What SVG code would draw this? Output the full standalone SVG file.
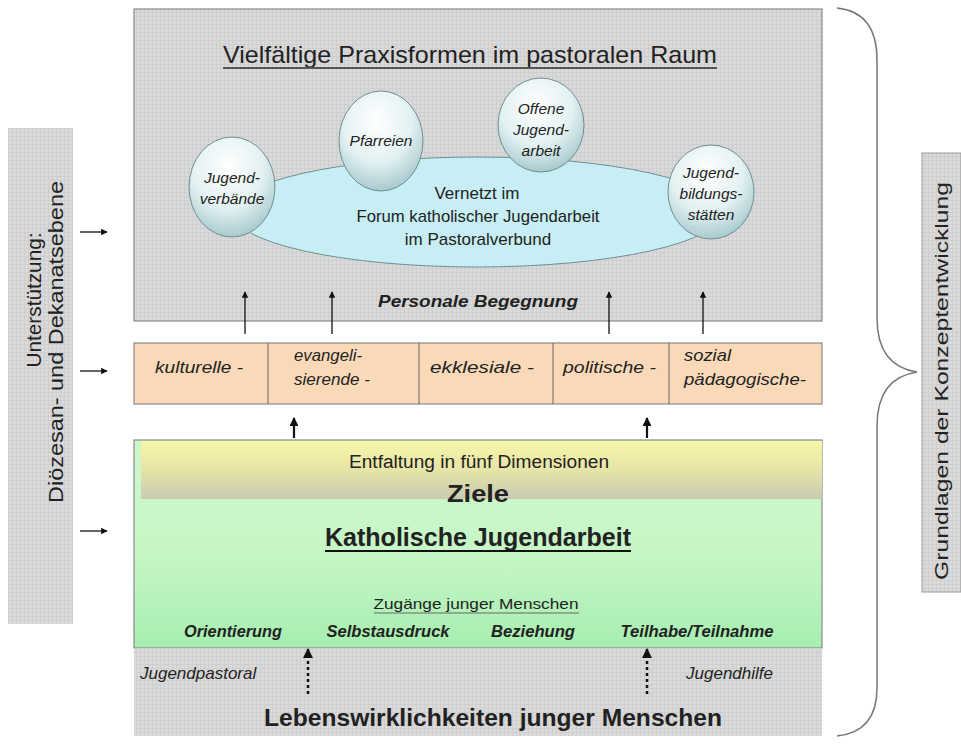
<svg xmlns="http://www.w3.org/2000/svg" width="961" height="744" viewBox="0 0 961 744">
<defs>
  <pattern id="grid" width="4" height="4" patternUnits="userSpaceOnUse">
    <rect width="4" height="4" fill="#dadada"/>
    <path d="M0 0.5H4M0.5 0V4" stroke="#cfcfcf" stroke-width="1"/>
  </pattern>
  <radialGradient id="ball" cx="0.45" cy="0.3" r="0.75">
    <stop offset="0" stop-color="#ffffff"/>
    <stop offset="0.55" stop-color="#e3f1f2"/>
    <stop offset="1" stop-color="#9fc3c8"/>
  </radialGradient>
  <linearGradient id="yel" x1="0" y1="0" x2="0" y2="1">
    <stop offset="0" stop-color="#f8f6a8"/>
    <stop offset="0.5" stop-color="#e6e4a8"/>
    <stop offset="1" stop-color="#c8cbb0"/>
  </linearGradient>
  <linearGradient id="grn" x1="0" y1="0" x2="0" y2="1">
    <stop offset="0" stop-color="#cdf8cd"/>
    <stop offset="0.55" stop-color="#c6f6c6"/>
    <stop offset="1" stop-color="#a6eeb0"/>
  </linearGradient>
  <marker id="ah" viewBox="0 0 10 10" refX="9" refY="5" markerWidth="5" markerHeight="5" orient="auto">
    <path d="M0 0L10 5L0 10z" fill="#111"/>
  </marker>
  <marker id="ahb" viewBox="0 0 10 10" refX="9" refY="5" markerWidth="4" markerHeight="4" orient="auto">
    <path d="M0 0L10 5L0 10z" fill="#111"/>
  </marker>
</defs>
<style>
  text { font-family: "Liberation Sans", Arial, sans-serif; fill: #222; }
  .c { text-anchor: middle; }
  .e { text-anchor: end; }
  .it { font-style: italic; }
  .b { font-weight: bold; }
  .box { stroke: #8a8a8a; stroke-width: 1.2; }
  .ball { fill: url(#ball); stroke: #6f8f92; stroke-width: 1; }
  .bt { font-size: 15.5px; font-style: italic; text-anchor: middle; }
  .ot { font-size: 16.5px; font-style: italic; }
  .zt { font-size: 16px; font-style: italic; font-weight: bold; text-anchor: middle; }
  .arr { stroke: #111; stroke-width: 1.3; fill: none; marker-end: url(#ah); }
  .arrb { stroke: #111; stroke-width: 2.2; fill: none; marker-end: url(#ahb); }
  .dash { stroke: #111; stroke-width: 2.5; stroke-dasharray: 3 3; fill: none; marker-end: url(#ahb); }
  .div { stroke: #666; stroke-width: 1; }
</style>
<rect width="961" height="744" fill="#ffffff"/>

<g id="praxis">
  <rect x="134" y="9" width="688" height="312" fill="url(#grid)" class="box"/>
  <text x="470" y="63" class="c" font-size="24" textLength="494" lengthAdjust="spacingAndGlyphs">Vielfältige Praxisformen im pastoralen Raum</text>
  <line x1="223" y1="68" x2="717" y2="68" stroke="#555" stroke-width="2"/>
  <ellipse cx="477" cy="212" rx="245" ry="55" fill="#c6eef4" stroke="#6f8f92" stroke-width="1"/>
  <text x="477" y="199" class="c" font-size="17">Vernetzt im</text>
  <text x="478" y="222" class="c" font-size="17" textLength="243" lengthAdjust="spacingAndGlyphs">Forum katholischer Jugendarbeit</text>
  <text x="478" y="245" class="c" font-size="17">im Pastoralverbund</text>
</g>
<g id="jugendverbaende">
  <ellipse cx="232" cy="187" rx="43" ry="50" class="ball"/>
  <text x="232" y="183" class="bt">Jugend-</text>
  <text x="232" y="204" class="bt">verbände</text>
</g>
<g id="pfarreien">
  <ellipse cx="381" cy="141" rx="42" ry="50" class="ball"/>
  <text x="381" y="146" class="bt">Pfarreien</text>
</g>
<g id="offene">
  <ellipse cx="541" cy="125" rx="43" ry="47" class="ball"/>
  <text x="541" y="114" class="bt">Offene</text>
  <text x="541" y="135" class="bt">Jugend-</text>
  <text x="541" y="156" class="bt">arbeit</text>
</g>
<g id="bildung">
  <ellipse cx="711" cy="192" rx="43" ry="47" class="ball"/>
  <text x="711" y="178" class="bt">Jugend-</text>
  <text x="711" y="199" class="bt">bildungs-</text>
  <text x="711" y="220" class="bt">stätten</text>
</g>
<g id="personale">
  <text x="478" y="307" class="c it b" font-size="17" textLength="200" lengthAdjust="spacingAndGlyphs">Personale Begegnung</text>
</g>

<g id="dimensionen">
  <rect x="134" y="343" width="688" height="61" fill="#fad9b8" class="box"/>
  <line x1="268" y1="343" x2="268" y2="404" class="div"/>
  <line x1="419" y1="343" x2="419" y2="404" class="div"/>
  <line x1="553" y1="343" x2="553" y2="404" class="div"/>
  <line x1="669" y1="343" x2="669" y2="404" class="div"/>
  <text x="155" y="373" class="ot" textLength="88" lengthAdjust="spacingAndGlyphs">kulturelle -</text>
  <text x="294" y="361" class="ot" textLength="68" lengthAdjust="spacingAndGlyphs">evangeli-</text>
  <text x="294" y="385" class="ot" textLength="76" lengthAdjust="spacingAndGlyphs">sierende -</text>
  <text x="430" y="373" class="ot" textLength="104" lengthAdjust="spacingAndGlyphs">ekklesiale -</text>
  <text x="563" y="373" class="ot" textLength="93" lengthAdjust="spacingAndGlyphs">politische -</text>
  <text x="684" y="361" class="ot" textLength="47" lengthAdjust="spacingAndGlyphs">sozial</text>
  <text x="684" y="385" class="ot" textLength="122" lengthAdjust="spacingAndGlyphs">pädagogische-</text>
</g>

<g id="kja">
  <rect x="134" y="440" width="688" height="208" fill="url(#grn)" class="box" stroke="#7a9a7a"/>
  <rect x="141" y="441" width="681" height="58" fill="url(#yel)"/>
  <text x="479" y="468" class="c" font-size="18" textLength="260" lengthAdjust="spacingAndGlyphs">Entfaltung in fünf Dimensionen</text>
  <text x="478" y="502" class="c b" font-size="24" textLength="62" lengthAdjust="spacingAndGlyphs">Ziele</text>
  <text x="478" y="546" class="c b" font-size="25" textLength="306" lengthAdjust="spacingAndGlyphs">Katholische Jugendarbeit</text>
  <line x1="325" y1="551" x2="631" y2="551" stroke="#111" stroke-width="2.2"/>
  <text x="476" y="609" class="c" font-size="15" fill="#555" textLength="205" lengthAdjust="spacingAndGlyphs">Zugänge junger Menschen</text>
  <line x1="374" y1="613" x2="579" y2="613" stroke="#666" stroke-width="1"/>
  <text x="233" y="637" class="zt" textLength="98" lengthAdjust="spacingAndGlyphs">Orientierung</text>
  <text x="388" y="637" class="zt" textLength="123" lengthAdjust="spacingAndGlyphs">Selbstausdruck</text>
  <text x="533" y="637" class="zt" textLength="84" lengthAdjust="spacingAndGlyphs">Beziehung</text>
  <text x="697" y="637" class="zt" textLength="153" lengthAdjust="spacingAndGlyphs">Teilhabe/Teilnahme</text>
</g>

<g id="lebens">
  <rect x="134" y="648" width="688" height="88" fill="url(#grid)"/>
  <text x="140" y="679" class="it" font-size="17">Jugendpastoral</text>
  <text x="773" y="679" class="e it" font-size="17">Jugendhilfe</text>
  <text x="493" y="726" class="c b" font-size="24.5" textLength="458" lengthAdjust="spacingAndGlyphs">Lebenswirklichkeiten junger Menschen</text>
</g>

<g id="unterstuetzung">
  <rect x="8" y="128" width="65" height="496" fill="url(#grid)"/>
  <text transform="translate(41 300) rotate(-90)" class="c" font-size="20" textLength="135" lengthAdjust="spacingAndGlyphs">Unterstützung:</text>
  <text transform="translate(63 342) rotate(-90)" class="c" font-size="20" textLength="322" lengthAdjust="spacingAndGlyphs">Diözesan- und Dekanatsebene</text>
</g>

<g id="grundlagen">
  <rect x="922" y="153" width="39" height="439" fill="url(#grid)" stroke="#999" stroke-width="1"/>
  <text transform="translate(948 381) rotate(-90)" class="c" font-size="19" textLength="398" lengthAdjust="spacingAndGlyphs">Grundlagen der Konzeptentwicklung</text>
</g>

<g id="connectors">
  <line x1="245" y1="334" x2="245" y2="292" class="arr"/>
  <line x1="332" y1="334" x2="332" y2="292" class="arr"/>
  <line x1="609" y1="334" x2="609" y2="292" class="arr"/>
  <line x1="703" y1="334" x2="703" y2="292" class="arr"/>
  <line x1="294" y1="438" x2="294" y2="418" class="arrb"/>
  <line x1="647" y1="438" x2="647" y2="418" class="arrb"/>
  <line x1="308" y1="694" x2="308" y2="649" class="dash"/>
  <line x1="647" y1="694" x2="647" y2="649" class="dash"/>
  <line x1="80" y1="232" x2="107" y2="232" class="arr"/>
  <line x1="80" y1="371" x2="107" y2="371" class="arr"/>
  <line x1="80" y1="531" x2="107" y2="531" class="arr"/>
  <path d="M837 8 Q877 12 877 60 L877 318 Q877 366 917 372 Q877 378 877 426 L877 688 Q877 732 837 736" fill="none" stroke="#777" stroke-width="1.5"/>
</g>
</svg>
